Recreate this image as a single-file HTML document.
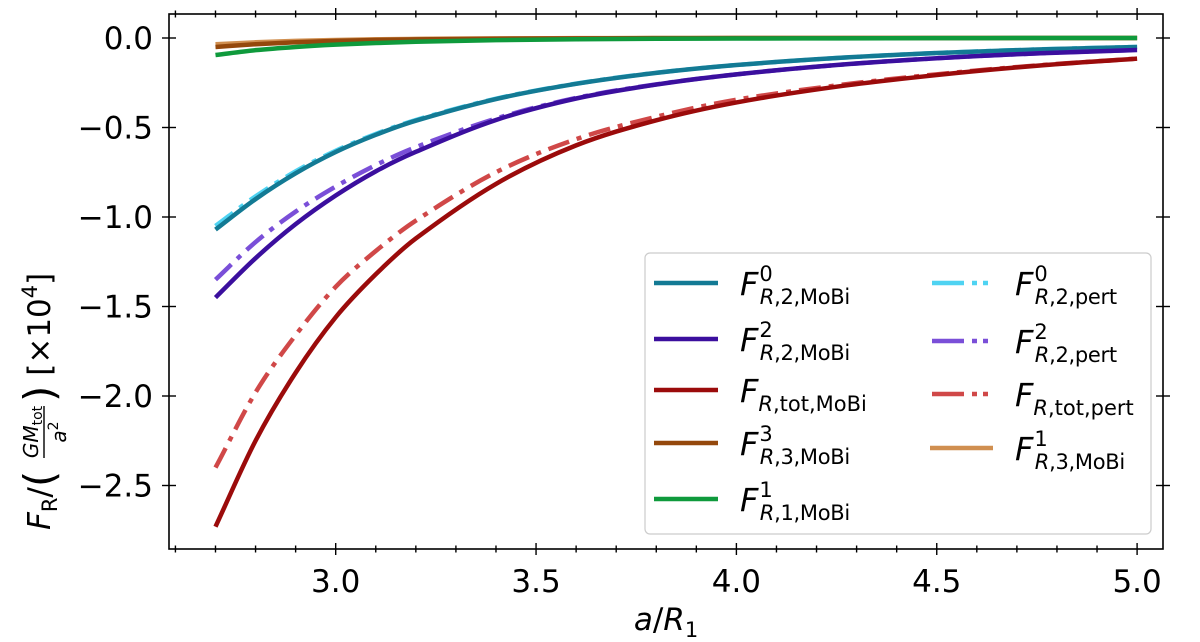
<!DOCTYPE html>
<html><head><meta charset="utf-8"><style>
body{margin:0;background:#fff}
svg{display:block;font-family:"DejaVu Sans","Liberation Sans",sans-serif}
</style></head><body>
<svg id="chart" width="1200" height="642" viewBox="0 0 1200 642" xmlns="http://www.w3.org/2000/svg">
<g id="series"></g>
<rect x="169" y="14" width="994" height="535" fill="none" stroke="#000" stroke-width="1.6"/>
<g id="ticks"></g>
<text x="666" y="630" font-size="31" text-anchor="middle"><tspan font-style="italic">a</tspan>/<tspan font-style="italic">R</tspan><tspan font-size="21" dy="7">1</tspan></text>
<g transform="translate(50,282) rotate(-90)">
<text x="-248" y="0" font-size="31"><tspan font-style="italic">F</tspan><tspan font-size="21" dy="7">R</tspan><tspan dy="-7">/</tspan><tspan font-size="42" dy="4">(</tspan></text>
<text x="-150" y="-12" font-size="20" text-anchor="middle"><tspan font-style="italic">GM</tspan><tspan font-size="14" dy="4">tot</tspan></text>
<line x1="-176" x2="-124" y1="-6" y2="-6" stroke="#000" stroke-width="1.4"/>
<text x="-150" y="16" font-size="20" text-anchor="middle"><tspan font-style="italic">a</tspan><tspan font-size="14" dy="-8">2</tspan></text>
<text x="-120" y="0" font-size="31"><tspan font-size="42" dy="4">)</tspan><tspan dy="-4"> [×10</tspan><tspan font-size="21" dy="-13">4</tspan><tspan dy="13">]</tspan></text>
</g>
<g>
<rect x="645" y="253" width="506" height="281" rx="5" fill="#fff" fill-opacity="0.85" stroke="#ccc" stroke-width="1.2"/>
<g id="legend"></g>
</g>
</svg>
<script>
const xs=[2.7,2.8,2.9,3.0,3.1,3.2,3.4,3.6,3.8,4.0,4.25,4.5,4.75,5.0];
const f0Mobi=[-1.07,-0.90,-0.756,-0.637,-0.541,-0.462,-0.341,-0.256,-0.195,-0.151,-0.112,-0.084,-0.064,-0.050];
const f2Mobi=[-1.45,-1.23,-1.04,-0.88,-0.745,-0.636,-0.458,-0.338,-0.26,-0.203,-0.151,-0.113,-0.086,-0.067];
const ftotMobi=[-2.73,-2.25,-1.87,-1.56,-1.32,-1.12,-0.815,-0.60,-0.46,-0.36,-0.272,-0.207,-0.155,-0.115];
const f3Mobi=[-0.05,-0.035,-0.024,-0.016,-0.011,-0.008,-0.004,-0.002,-0.001,0,0,0,0,0];
const f1Mobi=[-0.095,-0.068,-0.05,-0.037,-0.028,-0.021,-0.012,-0.007,-0.004,-0.003,-0.002,-0.001,0,0];
const f0Pert=[-1.05,-0.885,-0.745,-0.63,-0.536,-0.458,-0.339,-0.255,-0.194,-0.151,-0.112,-0.084,-0.064,-0.05];
const f2Pert=[-1.35,-1.14,-0.97,-0.83,-0.71,-0.61,-0.45,-0.335,-0.259,-0.203,-0.151,-0.113,-0.086,-0.067];
const ftotPert=[-2.40,-1.98,-1.66,-1.39,-1.19,-1.02,-0.75,-0.565,-0.44,-0.345,-0.265,-0.203,-0.153,-0.115];
const f13Mobi=[-0.035,-0.024,-0.016,-0.011,-0.007,-0.005,-0.002,-0.001,0,0,0,0,0,0];
const xTicks=[3.0,3.5,4.0,4.5,5.0];
const yTicks=[0,-0.5,-1.0,-1.5,-2.0,-2.5];

const NS="http://www.w3.org/2000/svg";
const X=v=>335.7+400.7*(v-3);
const Y=v=>38-179*v;
function mk(t,a,p){const e=document.createElementNS(NS,t);for(const k in a)e.setAttribute(k,a[k]);p.appendChild(e);return e;}
const DASH="22,8,5,8";
const series=[
 {n:"f0-mobi",d:f0Mobi,c:"#137a94",dash:null},
 {n:"f2-mobi",d:f2Mobi,c:"#3b0f9e",dash:null},
 {n:"ftot-mobi",d:ftotMobi,c:"#9b0b0b",dash:null},
 {n:"f3-mobi",d:f3Mobi,c:"#94480c",dash:null},
 {n:"f13-mobi",d:f13Mobi,c:"#d08f50",dash:null},
 {n:"f1-mobi",d:f1Mobi,c:"#0f9a3c",dash:null},
 {n:"f0-pert",d:f0Pert,c:"#4fd3f2",dash:DASH},
 {n:"f2-pert",d:f2Pert,c:"#7a4fd8",dash:DASH},
 {n:"ftot-pert",d:ftotPert,c:"#d04848",dash:DASH}
];
const sg=document.getElementById('series');
const order=["f13-mobi","f3-mobi","f1-mobi","f0-pert","f0-mobi","f2-pert","f2-mobi","ftot-pert","ftot-mobi"];
order.forEach(nm=>{const s=series.find(q=>q.n===nm);
 const P=xs.map((x,i)=>[X(x),Y(s.d[i])]);
 const n=P.length;
 const m=P.map((p,i)=>{const a=P[Math.max(0,i-1)],b=P[Math.min(n-1,i+1)];return (b[1]-a[1])/(b[0]-a[0]);});
 let d="M"+P[0][0]+","+P[0][1];
 for(let i=0;i<n-1;i++){const h=(P[i+1][0]-P[i][0])/3;
  d+=` C${P[i][0]+h},${P[i][1]+m[i]*h} ${P[i+1][0]-h},${P[i+1][1]-m[i+1]*h} ${P[i+1][0]},${P[i+1][1]}`;}
 const a={d:d,fill:"none",stroke:s.c,"stroke-width":4.5};
 if(s.dash)a["stroke-dasharray"]=s.dash;
 const el=mk('path',a,sg);
 
 
});
const tg=document.getElementById('ticks');
for(let k=26;k<=52;k++){const v=k/10;const x=X(v);if(x<170||x>1162)continue;
 const major=Math.abs(v*2-Math.round(v*2))<1e-6;const L=major?12:7;
 mk('line',{x1:x,x2:x,y1:549-L/2,y2:549+L/2,stroke:"#000","stroke-width":1.4},tg);
 mk('line',{x1:x,x2:x,y1:14-L/2,y2:14+L/2,stroke:"#000","stroke-width":1.4},tg);}
xTicks.forEach(v=>{const t=mk('text',{x:X(v),y:592,"font-size":31,"text-anchor":"middle"},tg);t.textContent=v.toFixed(1);
 
 });
yTicks.forEach(v=>{const y=Y(v);
 mk('line',{x1:162,x2:176,y1:y,y2:y,stroke:"#000","stroke-width":1.4},tg);
 mk('line',{x1:1156,x2:1170,y1:y,y2:y,stroke:"#000","stroke-width":1.4},tg);
 const t=mk('text',{x:153,y:y+11,"font-size":31,"text-anchor":"end"},tg);t.textContent=(v<0?"\u2212":"")+Math.abs(v).toFixed(1);
 
 });
const lg=document.getElementById('legend');
const leg=[
 ["f0-mobi",654,718,283,740,"0","R, 2, MoBi"],["f2-mobi",654,718,339,740,"2","R, 2, MoBi"],["ftot-mobi",654,718,390,740,"","R, tot, MoBi"],
 ["f3-mobi",654,718,443,740,"3","R, 3, MoBi"],["f1-mobi",654,718,499,740,"1","R, 1, MoBi"],
 ["f0-pert",932,991,283,1015,"0","R, 2, pert"],["f2-pert",932,991,341,1015,"2","R, 2, pert"],["ftot-pert",932,991,394,1015,"","R, tot, pert"],
 ["f13-mobi",930,993,448,1015,"1","R, 3, MoBi"]];
leg.forEach(e=>{const s=series.find(q=>q.n===e[0]);
 const a={x1:e[1],x2:e[2],y1:e[3],y2:e[3],stroke:s.c,"stroke-width":4.5};
 if(s.dash)a["stroke-dasharray"]="32,8,5,6,5";
 const ln=mk('line',a,lg);
 
 
 const t=mk('text',{x:e[4],y:e[3]+12,"font-size":32},lg);
 
 
 const parts=e[6].split(", ");
 const sub=`<tspan font-style="italic">R</tspan>,${parts.slice(1).join(",")}`;
 t.innerHTML=`<tspan font-style="italic">F</tspan>`+(e[5]?`<tspan font-size="21" dy="-14" dx="1">${e[5]}</tspan><tspan font-size="21" dy="23" dx="-13" letter-spacing="-0.3">${sub}</tspan>`:`<tspan font-size="21" dy="9">${sub}</tspan>`);
});
</script>
</body></html>
